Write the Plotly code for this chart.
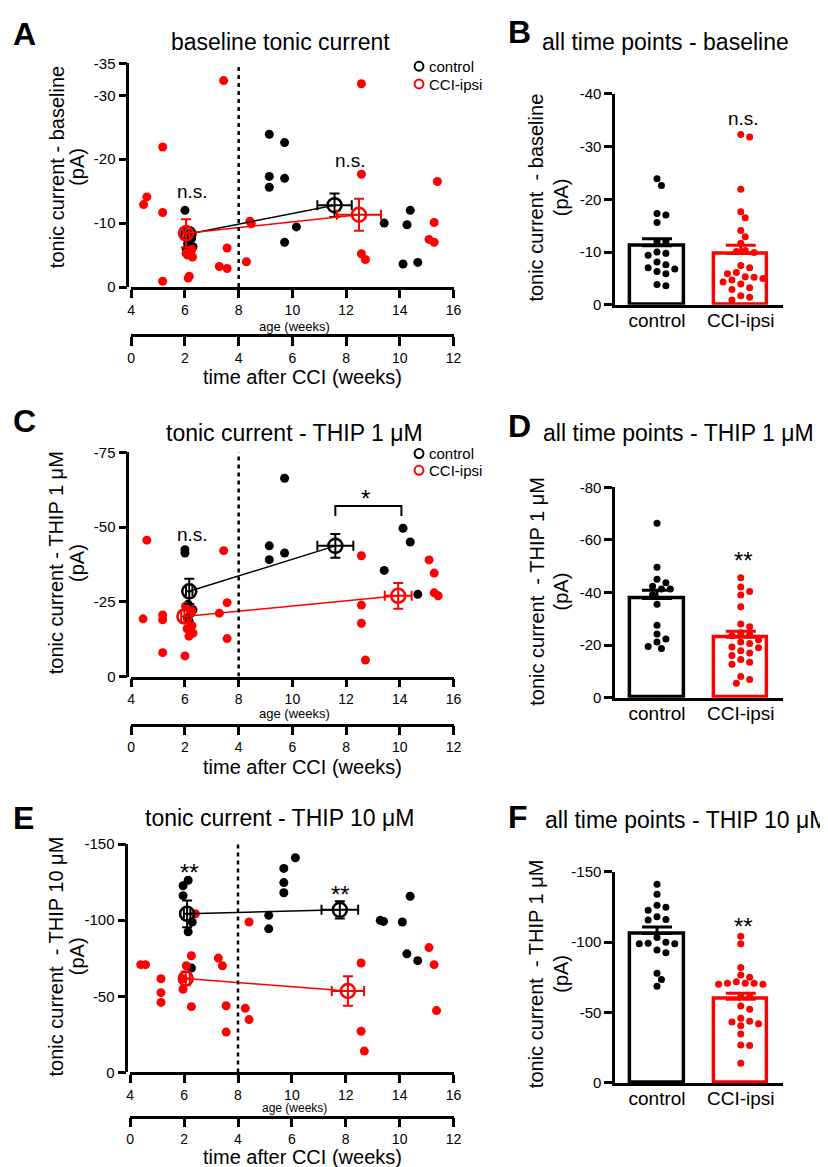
import plotly.graph_objects as go

W, H = 828, 1167
FONT = "Liberation Sans, Arial, sans-serif"
RED = "#ff0000"


def PX(x):
    return x / W


def PY(y):
    return 1 - y / H


# ---------------- DATA ----------------
age_ticks = [4, 6, 8, 10, 12, 14, 16]
cci_ticks = [0, 2, 4, 6, 8, 10, 12]
groups = ["control", "CCI-ipsi"]

# Panel A - baseline tonic current (pA) vs age (weeks)
base_ctrl_age = [6.0, 6.15, 6.25, 6.1, 6.3, 6.05, 9.14, 9.71, 9.14, 9.71, 9.14, 9.71, 10.15, 13.42, 14.27, 14.39, 14.12, 14.67]
base_ctrl_val = [-12.0, -8.1, -7.6, -6.8, -6.3, -5.9, -23.9, -22.6, -17.3, -17.0, -15.6, -7.0, -9.4, -10.0, -9.75, -12.0, -3.6, -3.85]
base_cci_age = [4.46, 4.58, 5.17, 5.17, 5.17, 6.04, 6.26, 6.1, 6.28, 6.16, 6.12, 7.44, 7.57, 7.28, 7.57, 8.29, 8.42, 8.47, 12.57, 12.57, 12.57, 12.72, 15.40, 15.28, 15.09, 15.28]
base_cci_val = [-12.9, -14.1, -21.9, -11.65, -0.9, -5.3, -5.9, -5.0, -4.7, -1.7, -1.4, -32.3, -6.1, -3.2, -2.9, -3.95, -10.3, -9.9, -31.8, -17.65, -5.2, -4.3, -16.5, -10.1, -7.45, -7.0]
base_mctrl_age = [6.13, 11.57]
base_mctrl_val = [-8.3, -12.8]
base_mctrl_xerr = [0.12, 0.64]
base_mctrl_yerr = [0.6, 1.85]
base_mcci_age = [6.04, 12.48]
base_mcci_val = [-8.4, -11.3]
base_mcci_xerr = [0.12, 0.82]
base_mcci_yerr = [2.2, 2.5]

# Panel C - THIP 1 uM
thip1_ctrl_age = [6.0, 6.0, 6.12, 6.3, 6.22, 6.1, 6.15, 9.14, 9.14, 9.71, 9.71, 14.12, 14.39, 13.42, 14.67]
thip1_ctrl_val = [-42.4, -41.3, -24.2, -22.3, -21.2, -19.5, -18.7, -43.7, -39.1, -66.3, -41.3, -49.6, -45.0, -35.5, -27.5]
thip1_cci_age = [4.44, 4.58, 5.17, 5.17, 5.17, 6.0, 6.02, 6.25, 6.26, 6.08, 6.3, 6.15, 7.44, 7.57, 7.28, 7.57, 12.57, 12.57, 12.57, 12.72, 15.09, 15.28, 15.28, 15.43]
thip1_cci_val = [-19.3, -45.6, -20.6, -19.0, -8.0, -6.9, -23.5, -22.0, -17.0, -16.0, -14.5, -13.5, -42.1, -24.7, -21.2, -12.7, -40.4, -23.9, -17.8, -5.5, -39.0, -34.6, -28.0, -27.0]
thip1_mctrl_age = [6.16, 11.6]
thip1_mctrl_val = [-28.5, -43.7]
thip1_mctrl_xerr = [0.12, 0.67]
thip1_mctrl_yerr = [4.2, 4.0]
thip1_mcci_age = [5.98, 13.94]
thip1_mcci_val = [-20.1, -27.0]
thip1_mcci_xerr = [0.12, 0.5]
thip1_mcci_yerr = [2.0, 4.3]

# Panel E - THIP 10 uM
thip10_ctrl_age = [5.96, 6.15, 5.96, 6.3, 6.15, 6.27, 9.14, 9.14, 9.7, 9.7, 9.7, 10.13, 13.28, 13.4, 14.1, 14.39, 14.27, 14.67]
thip10_ctrl_val = [-122.6, -126.2, -116.1, -98.8, -92.4, -68.6, -103.2, -94.3, -134.0, -124.7, -118.0, -141.0, -99.9, -99.2, -98.8, -115.7, -77.9, -73.4]
thip10_cci_age = [4.39, 4.57, 5.14, 5.14, 5.14, 5.96, 6.08, 6.27, 5.96, 6.42, 6.27, 7.27, 7.42, 7.56, 7.56, 8.41, 8.27, 8.41, 12.57, 12.57, 12.69, 15.09, 15.28, 15.37]
thip10_cci_val = [-70.8, -70.8, -61.5, -52.4, -46.0, -61.5, -70.1, -76.6, -54.6, -104.2, -43.2, -75.1, -70.1, -43.8, -26.5, -98.8, -42.1, -34.7, -71.9, -27.0, -14.0, -82.0, -70.8, -40.6]
thip10_mctrl_age = [6.11, 11.78]
thip10_mctrl_val = [-104.2, -106.8]
thip10_mctrl_xerr = [0.12, 0.68]
thip10_mctrl_yerr = [8.8, 5.7]
thip10_mcci_age = [6.06, 12.08]
thip10_mcci_val = [-61.7, -53.5]
thip10_mcci_xerr = [0.15, 0.6]
thip10_mcci_yerr = [4.5, 9.7]

# Bar panels (all time points): mean and SEM
base_bar_mean = [-11.2, -9.7]
base_bar_sem = [1.3, 1.6]
thip1_bar_mean = [-37.75, -23.0]
thip1_bar_sem = [3.15, 2.25]
thip10_bar_mean = [-106.1, -59.5]
thip10_bar_sem = [4.7, 4.2]

# ---------------- FIGURE ----------------
fig = go.Figure()
annotations = []
shapes = []
layout_axes = {}

axis_common = dict(showline=True, linecolor="black", linewidth=2.5, ticks="outside",
                   ticklen=8, tickwidth=2.5, tickcolor="black", showgrid=False,
                   zeroline=False, tickfont=dict(size=15, color="black"))


def ann(text, x, y, size, xref="paper", yref="paper", **kw):
    d = dict(text=text, x=x, y=y, xref=xref, yref=yref, showarrow=False,
             xanchor="center", yanchor="middle",
             font=dict(size=size, color="black", family=FONT))
    d.update(kw)
    annotations.append(d)


def swarm(vals, px_per_unit, dot_px, px_per_x):
    order = sorted(range(len(vals)), key=lambda i: vals[i])
    placed = []
    offs = [0.0] * len(vals)
    cands = [0.0] + [s * j * dot_px * 0.6 for j in range(1, 12) for s in (1, -1)]
    for i in order:
        yp = vals[i] * px_per_unit
        chosen = cands[-1]
        for c in cands:
            if all((c - px) ** 2 + (yp - py) ** 2 >= (dot_px * 1.0) ** 2 for py, px in placed):
                chosen = c
                break
        placed.append((yp, chosen))
        offs[i] = chosen / px_per_x
    return offs


scatter_panels = [
    dict(n=1, letter="A", lx=13, ly=17, title="baseline tonic current", tx=272, ty=25,
         top=47, bot=274, xl=121, xr=448, yx=117, ymax=-35, yt=[0, -10, -20, -30, -35],
         agelab=314, t2=323, t2title=365, ytitle="tonic current - baseline", yty=152,
         ctrl=(base_ctrl_age, base_ctrl_val), cci=(base_cci_age, base_cci_val),
         mctrl=(base_mctrl_age, base_mctrl_val, base_mctrl_xerr, base_mctrl_yerr),
         mcci=(base_mcci_age, base_mcci_val, base_mcci_xerr, base_mcci_yerr),
         legend=(50, 68)),
    dict(n=3, letter="C", lx=13, ly=410, title="tonic current - THIP 1 μM", tx=287, ty=422,
         top=441.7, bot=669.3, xl=121, xr=448, yx=117, ymax=-75, yt=[0, -25, -50, -75],
         agelab=707, t2=718, t2title=761, ytitle="tonic current - THIP 1 μM", yty=554,
         ctrl=(thip1_ctrl_age, thip1_ctrl_val), cci=(thip1_cci_age, thip1_cci_val),
         mctrl=(thip1_mctrl_age, thip1_mctrl_val, thip1_mctrl_xerr, thip1_mctrl_yerr),
         mcci=(thip1_mcci_age, thip1_mcci_val, thip1_mcci_xerr, thip1_mcci_yerr),
         legend=(443, 460)),
    dict(n=5, letter="E", lx=12, ly=813, title="tonic current - THIP 10 μM", tx=271, ty=813,
         top=839.3, bot=1071, xl=120, xr=448, yx=116, ymax=-150, yt=[0, -50, -100, -150],
         agelab=1107, t2=1116, t2title=1157, ytitle="tonic current  - THIP 10 μM", yty=953,
         ctrl=(thip10_ctrl_age, thip10_ctrl_val), cci=(thip10_cci_age, thip10_cci_val),
         mctrl=(thip10_mctrl_age, thip10_mctrl_val, thip10_mctrl_xerr, thip10_mctrl_yerr),
         mcci=(thip10_mcci_age, thip10_mcci_val, thip10_mcci_xerr, thip10_mcci_yerr),
         legend=None),
]

for p in scatter_panels:
    n = p["n"]
    xa, ya, x2a = f"x{n}", f"y{n}", f"x{n + 1}"
    xk, yk, x2k = f"xaxis{n}", f"yaxis{n}", f"xaxis{n + 1}"
    layout_axes[xk] = dict(axis_common, domain=[PX(p["xl"]), PX(p["xr"])], range=[4, 16],
                           tickvals=age_ticks, ticktext=[str(t) for t in age_ticks],
                           anchor=ya, ticklen=8, tickfont=dict(size=14, color="black"))
    layout_axes[yk] = dict(axis_common, domain=[PY(p["bot"]), PY(p["top"])], range=[0, p["ymax"]],
                           tickvals=p["yt"], ticktext=[str(t) for t in p["yt"]],
                           anchor="free", position=PX(p["yx"]))
    layout_axes[x2k] = dict(axis_common, overlaying=xa, anchor="free", position=PY(p["t2"]),
                            side="bottom", range=[0, 12], tickvals=cci_ticks,
                            ticktext=[str(t) for t in cci_ticks], ticklen=9,
                            tickfont=dict(size=14, color="black"))
    # invisible trace so the time-after-CCI axis is drawn
    fig.add_trace(go.Scatter(x=[cci_ticks[0]], y=[0], xaxis=x2a, yaxis=ya, mode="markers",
                             marker=dict(size=1, opacity=0), hoverinfo="skip", showlegend=False))
    # dotted line at 8 weeks of age (injury time)
    shapes.append(dict(type="line", xref=xa, yref=ya, x0=8, x1=8, y0=0, y1=p["ymax"],
                       line=dict(color="black", width=2.5, dash="4px,4px")))
    # individual cells
    fig.add_trace(go.Scatter(x=p["ctrl"][0], y=p["ctrl"][1], xaxis=xa, yaxis=ya, mode="markers",
                             marker=dict(size=9, color="black"), cliponaxis=False, showlegend=False))
    fig.add_trace(go.Scatter(x=p["cci"][0], y=p["cci"][1], xaxis=xa, yaxis=ya, mode="markers",
                             marker=dict(size=9, color=RED), cliponaxis=False, showlegend=False))
    # mean lines + mean markers
    for (ax_, v_, xe, ye), col in ((p["mctrl"], "black"), (p["mcci"], RED)):
        fig.add_trace(go.Scatter(x=ax_, y=v_, xaxis=xa, yaxis=ya, mode="lines",
                                 line=dict(color=col, width=1.5), showlegend=False))
        fig.add_trace(go.Scatter(x=ax_, y=v_, xaxis=xa, yaxis=ya, mode="markers",
                                 marker=dict(symbol="circle-open", size=14, color=col, line=dict(width=2.5)),
                                 error_x=dict(type="data", array=xe, color=col, thickness=2, width=5),
                                 error_y=dict(type="data", array=ye, color=col, thickness=2, width=5),
                                 cliponaxis=False, showlegend=False))
    # texts
    ann(f"<b>{p['letter']}</b>", PX(p["lx"]), PY(p["ly"]), 32)
    ann(p["title"], PX(p["tx"]), PY(p["ty"]), 23)
    ann(p["ytitle"], PX(45), PY(p["yty"]), 20, textangle=-90)
    ann("(pA)", PX(66), PY(p["yty"]), 20, textangle=-90)
    ann("age (weeks)", PX(287), PY(p["agelab"]), 12 if p["n"] == 5 else 13)
    ann("time after CCI (weeks)", PX(295), PY(p["t2title"]), 20)
    if p["legend"]:
        for yy, col, txt in ((p["legend"][0], "black", "control"), (p["legend"][1], RED, "CCI-ipsi")):
            shapes.append(dict(type="circle", xref="paper", yref="paper",
                               x0=PX(408.5), x1=PX(417.5), y0=PY(yy + 4.5), y1=PY(yy - 4.5),
                               line=dict(color=col, width=2)))
            ann(txt, PX(421), PY(yy), 15, xanchor="left")

# significance labels on scatter panels
ann("n.s.", 6.28, -15.0, 19, xref="x1", yref="y1")
ann("n.s.", 12.18, -19.8, 19, xref="x1", yref="y1")
ann("n.s.", 6.28, -47.5, 19, xref="x3", yref="y3")
ann("*", 12.72, -59.5, 24, xref="x3", yref="y3")
shapes.append(dict(type="path", xref="x3", yref="y3",
                   path="M 11.6 -53.7 L 11.6 -57 L 14.06 -57 L 14.06 -53.7",
                   line=dict(color="black", width=2)))
ann("**", 6.2, -131.5, 24, xref="x5", yref="y5")
ann("**", 11.8, -117.0, 24, xref="x5", yref="y5")

# ---------------- BAR PANELS ----------------
bar_panels = [
    dict(n=7, letter="B", lx=515, ly=15, title="all time points - baseline", tx=663, ty=25,
         top=78, bot=292, ymax=-40, yt=[0, -10, -20, -30, -40],
         mean=base_bar_mean, sem=base_bar_sem, dots=(base_ctrl_val, base_cci_val),
         ytitle="tonic current  - baseline", yty=183, star=("n.s.", -35.3, 19)),
    dict(n=8, letter="D", lx=515, ly=415, title="all time points - THIP 1 μM", tx=676, ty=422,
         top=477.3, bot=690.7, ymax=-80, yt=[0, -20, -40, -60, -80],
         mean=thip1_bar_mean, sem=thip1_bar_sem, dots=(thip1_ctrl_val, thip1_cci_val),
         ytitle="tonic current  - THIP 1 μM", yty=583, star=("**", -52.0, 24)),
    dict(n=9, letter="F", lx=513, ly=812, title="all time points - THIP 10 μM", tx=684, ty=815,
         top=867.3, bot=1081.7, ymax=-150, yt=[0, -50, -100, -150],
         mean=thip10_bar_mean, sem=thip10_bar_sem, dots=(thip10_ctrl_val, thip10_cci_val),
         ytitle="tonic current  - THIP 1 μM", yty=971, star=("**", -111.0, 24)),
]

for p in bar_panels:
    n = p["n"]
    xa, ya = f"x{n}", f"y{n}"
    layout_axes[f"xaxis{n}"] = dict(axis_common, domain=[PX(612), PX(782)], range=[-0.5, 1.5],
                                    tickvals=[0, 1], ticktext=groups, ticks="", anchor=ya,
                                    ticklabelstandoff=-3,
                                    tickfont=dict(size=19, color="black"))
    layout_axes[f"yaxis{n}"] = dict(axis_common, domain=[PY(p["bot"]), PY(p["top"])],
                                    range=[0, p["ymax"]], tickvals=p["yt"],
                                    ticktext=[str(t) for t in p["yt"]], anchor=xa)
    px_per_unit = (p["bot"] - p["top"]) / abs(p["ymax"])
    for i, col in enumerate(("black", RED)):
        fig.add_trace(go.Bar(x=[i], y=[p["mean"][i]], width=0.64, xaxis=xa, yaxis=ya,
                             marker=dict(color="white", line=dict(color=col, width=3.5)),
                             error_y=dict(type="data", symmetric=False, array=[0],
                                          arrayminus=[p["sem"][i]], color=col, thickness=3, width=15),
                             showlegend=False))
    for i, col in enumerate(("black", RED)):
        vals = p["dots"][i]
        offs = swarm(vals, px_per_unit, 7.5, 85.0)
        fig.add_trace(go.Scatter(x=[i + o for o in offs], y=vals, xaxis=xa, yaxis=ya, mode="markers",
                                 marker=dict(size=7, color=col), cliponaxis=False, showlegend=False))
    ann(f"<b>{p['letter']}</b>", PX(p["lx"]), PY(p["ly"]), 32)
    ann(p["title"], PX(p["tx"]), PY(p["ty"]), 23)
    ann(p["ytitle"], PX(532), PY(p["yty"]), 20, textangle=-90)
    ann("(pA)", PX(557), PY(p["yty"]), 20, textangle=-90)
    ann(p["star"][0], 1.03, p["star"][1], p["star"][2], xref=xa, yref=ya)

fig.update_layout(width=W, height=H, margin=dict(l=0, r=0, t=0, b=0),
                  plot_bgcolor="white", paper_bgcolor="white", showlegend=False,
                  font=dict(family=FONT, color="black"), bargap=0,
                  annotations=annotations, shapes=shapes, **layout_axes)

fig.write_html("out.html")
